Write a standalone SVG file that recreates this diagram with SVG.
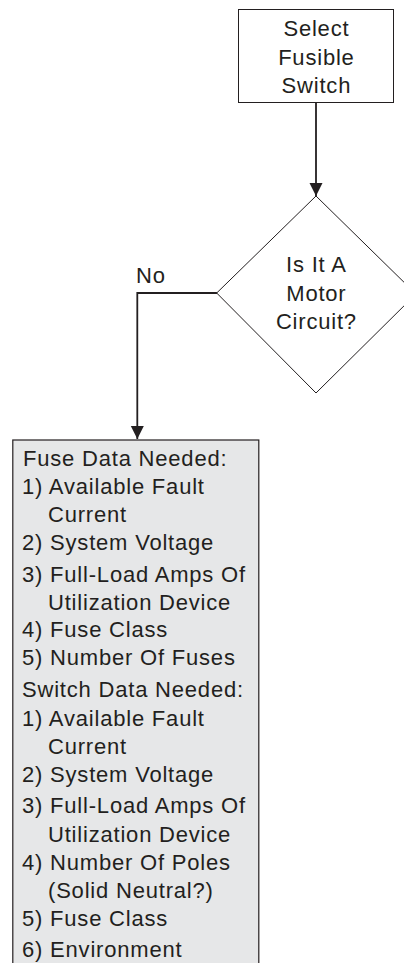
<svg xmlns="http://www.w3.org/2000/svg" width="404" height="963" viewBox="0 0 404 963">
<style>
  .t { font-family: "Liberation Sans", Arial, sans-serif; font-size: 22px; letter-spacing: 0.8px; fill: #231f20; }
  .c { text-anchor: middle; }
  .shape { fill: #ffffff; stroke: #231f20; stroke-width: 1; }
  .gray { fill: #e6e7e8; stroke: #231f20; stroke-width: 1.2; }
  .conn { fill: none; stroke: #231f20; stroke-width: 1.8; }
</style>
<defs>
  <marker id="arr" markerUnits="userSpaceOnUse" markerWidth="13" markerHeight="14" refX="13" refY="6.5" orient="auto">
    <path d="M0,0 L13,6.5 L0,13 Z" fill="#231f20"/>
  </marker>
</defs>
<rect width="404" height="963" fill="#ffffff"/>
<g id="connectors">
  <line class="conn" x1="316" y1="102" x2="316" y2="196" marker-end="url(#arr)"/>
  <polyline class="conn" points="217,293 137.3,293 137.3,439" marker-end="url(#arr)"/>
  <text class="t" x="136" y="283">No</text>
</g>
<g id="select">
  <rect class="shape" x="238.5" y="9.5" width="155" height="93"/>
  <text class="t c" x="316.4" y="36">Select</text>
  <text class="t c" x="316.4" y="64.5">Fusible</text>
  <text class="t c" x="316.4" y="93">Switch</text>
</g>
<g id="decision">
  <polygon class="shape" points="316,196 416,294 316,393 216.7,293"/>
  <text class="t c" x="316.4" y="272">Is It A</text>
  <text class="t c" x="316.4" y="301">Motor</text>
  <text class="t c" x="316.4" y="329">Circuit?</text>
</g>
<g id="data">
  <rect class="gray" x="12.8" y="440" width="246" height="540"/>
  <text class="t" x="23" y="466">Fuse Data Needed:</text>
  <text class="t" x="22" y="494">1) Available Fault</text>
  <text class="t" x="48" y="522">Current</text>
  <text class="t" x="22" y="550">2) System Voltage</text>
  <text class="t" x="22" y="582">3) Full-Load Amps Of</text>
  <text class="t" x="48" y="610">Utilization Device</text>
  <text class="t" x="22" y="637">4) Fuse Class</text>
  <text class="t" x="22" y="665">5) Number Of Fuses</text>
  <text class="t" x="22" y="697">Switch Data Needed:</text>
  <text class="t" x="22" y="726">1) Available Fault</text>
  <text class="t" x="48" y="754">Current</text>
  <text class="t" x="22" y="782">2) System Voltage</text>
  <text class="t" x="22" y="813">3) Full-Load Amps Of</text>
  <text class="t" x="48" y="842">Utilization Device</text>
  <text class="t" x="22" y="870">4) Number Of Poles</text>
  <text class="t" x="48" y="898">(Solid Neutral?)</text>
  <text class="t" x="22" y="926">5) Fuse Class</text>
  <text class="t" x="22" y="957">6) Environment</text>
</g>
</svg>
